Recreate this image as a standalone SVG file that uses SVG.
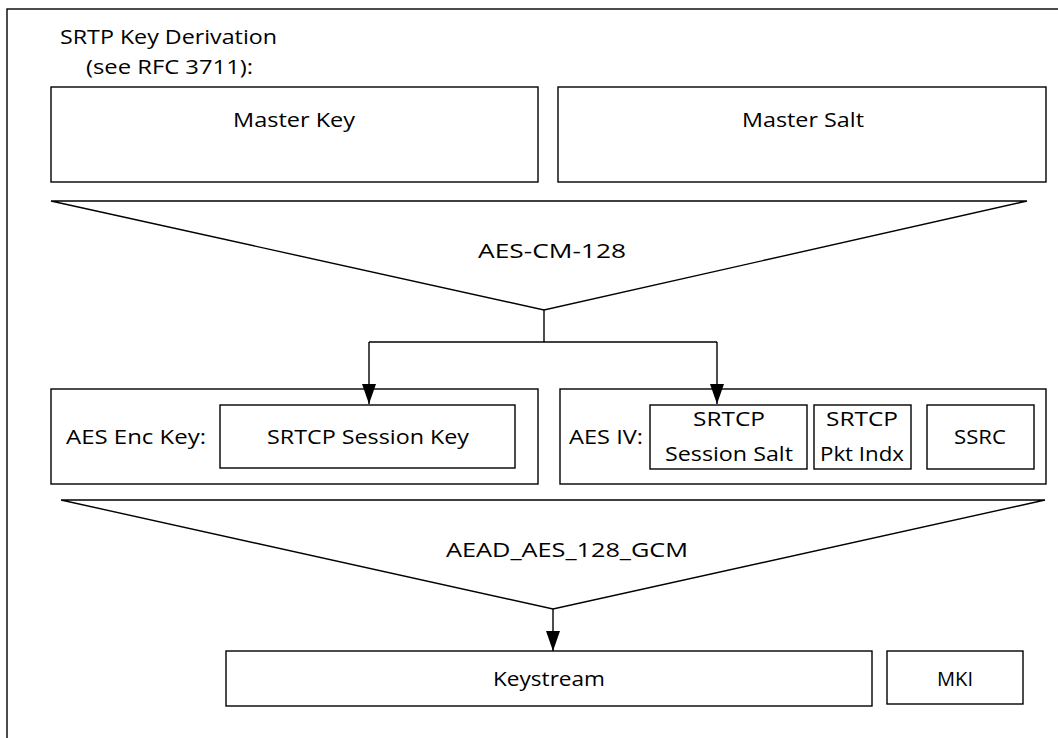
<svg xmlns="http://www.w3.org/2000/svg" width="1058" height="738" viewBox="0 0 1058 738">
<defs>
<style>
.b{fill:#fff;stroke:#000;stroke-width:1.4}
.c{fill:none;stroke:#000;stroke-width:1.4}
text{font-family:"Open Sans","Noto Sans","Liberation Sans",sans-serif;font-size:20px;fill:#000}
.m{text-anchor:middle}
</style>
<marker id="ah" markerUnits="userSpaceOnUse" markerWidth="20" markerHeight="14" refX="20" refY="7" orient="auto">
<path d="M0,0 L20,7 L0,14 z" fill="#000"/>
</marker>
</defs>
<rect x="7" y="9" width="1070" height="750" class="c"/>
<g id="title">
<text x="60" y="44" textLength="217" lengthAdjust="spacingAndGlyphs">SRTP Key Derivation</text>
<text x="86" y="74" textLength="167" lengthAdjust="spacingAndGlyphs">(see RFC 3711):</text>
</g>
<g id="master-key"><rect x="51" y="87" width="487" height="95" class="b"/><text x="294" y="127" class="m" textLength="122" lengthAdjust="spacingAndGlyphs">Master Key</text></g>
<g id="master-salt"><rect x="558" y="87" width="488" height="95" class="b"/><text x="803" y="127" class="m" textLength="122" lengthAdjust="spacingAndGlyphs">Master Salt</text></g>
<g id="aes-cm"><polygon points="51,201 1027,201 544,310" class="b"/><text x="552" y="258" class="m" textLength="148" lengthAdjust="spacingAndGlyphs">AES-CM-128</text></g>
<g id="enc-key">
<rect x="51" y="389" width="487" height="95" class="b"/>
<text x="66" y="444" textLength="140" lengthAdjust="spacingAndGlyphs">AES Enc Key:</text>
<rect x="220" y="405" width="295" height="63" class="b"/>
<text x="368" y="444" class="m" textLength="202" lengthAdjust="spacingAndGlyphs">SRTCP Session Key</text>
</g>
<g id="aes-iv">
<rect x="560" y="389" width="486" height="95" class="b"/>
<text x="569" y="444" textLength="74" lengthAdjust="spacingAndGlyphs">AES IV:</text>
<rect x="650" y="405" width="157" height="64" class="b"/>
<text x="729" y="426" class="m" textLength="72" lengthAdjust="spacingAndGlyphs">SRTCP</text>
<text x="729" y="461" class="m" textLength="128" lengthAdjust="spacingAndGlyphs">Session Salt</text>
<rect x="814" y="405" width="97" height="64" class="b"/>
<text x="862" y="426" class="m" textLength="72" lengthAdjust="spacingAndGlyphs">SRTCP</text>
<text x="862" y="461" class="m" textLength="84" lengthAdjust="spacingAndGlyphs">Pkt Indx</text>
<rect x="927" y="405" width="107" height="64" class="b"/>
<text x="980" y="444" class="m" textLength="52" lengthAdjust="spacingAndGlyphs">SSRC</text>
</g>
<g id="aead"><polygon points="61,500 1045,500 553,609" class="b"/><text x="567" y="557" class="m" textLength="242" lengthAdjust="spacingAndGlyphs">AEAD_AES_128_GCM</text></g>
<g id="keystream"><rect x="226" y="651" width="646" height="55" class="b"/><text x="549" y="686" class="m" textLength="112" lengthAdjust="spacingAndGlyphs">Keystream</text></g>
<g id="mki"><rect x="887" y="651" width="136" height="53" class="b"/><text x="955" y="686" class="m" textLength="36" lengthAdjust="spacingAndGlyphs">MKI</text></g>
<g id="connectors">
<line x1="544" y1="310" x2="544" y2="342" class="c"/>
<polyline points="369,342 717,342" class="c"/>
<line x1="369" y1="342" x2="369" y2="404" class="c" marker-end="url(#ah)"/>
<line x1="717" y1="342" x2="717" y2="404" class="c" marker-end="url(#ah)"/>
<line x1="553" y1="609" x2="553" y2="651" class="c" marker-end="url(#ah)"/>
</g>
</svg>
